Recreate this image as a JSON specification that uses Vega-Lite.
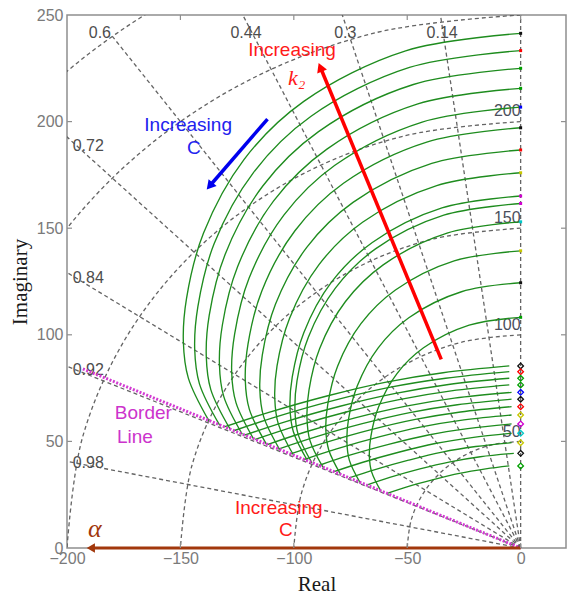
{
  "$schema": "https://vega.github.io/schema/vega-lite/v6.json",
  "width": 499,
  "height": 533,
  "autosize": {"type": "none"},
  "padding": {"left": 67, "top": 15, "right": 2, "bottom": 50},
  "background": "white",
  "config": {"view": {"stroke": "#8f8f8f", "strokeWidth": 1.5}},
  "datasets": {
    "wn": [
      {"r": 50, "i": 0, "x": 0, "y": 50}, {"r": 50, "i": 1, "x": -12.94, "y": 48.3}, {"r": 50, "i": 2, "x": -25, "y": 43.3}, {"r": 50, "i": 3, "x": -35.36, "y": 35.36}, {"r": 50, "i": 4, "x": -43.3, "y": 25}, {"r": 50, "i": 5, "x": -48.3, "y": 12.94}, {"r": 50, "i": 6, "x": -50, "y": 0},
      {"r": 100, "i": 0, "x": 0, "y": 100}, {"r": 100, "i": 1, "x": -25.88, "y": 96.59}, {"r": 100, "i": 2, "x": -50, "y": 86.6}, {"r": 100, "i": 3, "x": -70.71, "y": 70.71}, {"r": 100, "i": 4, "x": -86.6, "y": 50}, {"r": 100, "i": 5, "x": -96.59, "y": 25.88}, {"r": 100, "i": 6, "x": -100, "y": 0},
      {"r": 150, "i": 0, "x": 0, "y": 150}, {"r": 150, "i": 1, "x": -38.82, "y": 144.89}, {"r": 150, "i": 2, "x": -75, "y": 129.9}, {"r": 150, "i": 3, "x": -106.07, "y": 106.07}, {"r": 150, "i": 4, "x": -129.9, "y": 75}, {"r": 150, "i": 5, "x": -144.89, "y": 38.82}, {"r": 150, "i": 6, "x": -150, "y": 0},
      {"r": 200, "i": 0, "x": 0, "y": 200}, {"r": 200, "i": 1, "x": -51.76, "y": 193.19}, {"r": 200, "i": 2, "x": -100, "y": 173.21}, {"r": 200, "i": 3, "x": -141.42, "y": 141.42}, {"r": 200, "i": 4, "x": -173.21, "y": 100}, {"r": 200, "i": 5, "x": -193.19, "y": 51.76}, {"r": 200, "i": 6, "x": -200, "y": 0},
      {"r": 250, "i": 0, "x": 0, "y": 250}, {"r": 250, "i": 1, "x": -64.7, "y": 241.48}, {"r": 250, "i": 2, "x": -125, "y": 216.51}, {"r": 250, "i": 3, "x": -176.78, "y": 176.78}, {"r": 250, "i": 4, "x": -216.51, "y": 125}, {"r": 250, "i": 5, "x": -241.48, "y": 64.7}, {"r": 250, "i": 6, "x": -250, "y": 0},
      {"r": 300, "i": 0, "x": 0, "y": 300}, {"r": 300, "i": 1, "x": -77.65, "y": 289.78}, {"r": 300, "i": 2, "x": -150, "y": 259.81}, {"r": 300, "i": 3, "x": -212.13, "y": 212.13}, {"r": 300, "i": 4, "x": -259.81, "y": 150}, {"r": 300, "i": 5, "x": -289.78, "y": 77.65}, {"r": 300, "i": 6, "x": -300, "y": 0}
    ],
    "zeta": [
      {"z": 0, "i": 0, "x": 0, "y": 0}, {"z": 0, "i": 1, "x": 0, "y": 300},
      {"z": 0.14, "i": 0, "x": 0, "y": 0}, {"z": 0.14, "i": 1, "x": -42, "y": 297.0},
      {"z": 0.3, "i": 0, "x": 0, "y": 0}, {"z": 0.3, "i": 1, "x": -90, "y": 286.2},
      {"z": 0.44, "i": 0, "x": 0, "y": 0}, {"z": 0.44, "i": 1, "x": -132, "y": 269.4},
      {"z": 0.6, "i": 0, "x": 0, "y": 0}, {"z": 0.6, "i": 1, "x": -180, "y": 240},
      {"z": 0.72, "i": 0, "x": 0, "y": 0}, {"z": 0.72, "i": 1, "x": -216, "y": 208.2},
      {"z": 0.84, "i": 0, "x": 0, "y": 0}, {"z": 0.84, "i": 1, "x": -252, "y": 162.8},
      {"z": 0.92, "i": 0, "x": 0, "y": 0}, {"z": 0.92, "i": 1, "x": -276, "y": 117.6},
      {"z": 0.98, "i": 0, "x": 0, "y": 0}, {"z": 0.98, "i": 1, "x": -294, "y": 59.7}
    ],
    "zetaTop": [
      {"t": "0.6", "x": -185.5, "y": 241.6},
      {"t": "0.44", "x": -121.1, "y": 241.6},
      {"t": "0.3", "x": -77.3, "y": 241.6},
      {"t": "0.14", "x": -34.6, "y": 241.6}
    ],
    "zetaLeft": [
      {"t": "0.72", "x": -197.5, "y": 188.5},
      {"t": "0.84", "x": -197.5, "y": 126.5},
      {"t": "0.92", "x": -197.5, "y": 83.5},
      {"t": "0.98", "x": -197.5, "y": 39.7}
    ],
    "wnLab": [
      {"t": "200", "x": 0, "y": 205},
      {"t": "150", "x": 0, "y": 154.6},
      {"t": "100", "x": 0, "y": 104.6},
      {"t": "50", "x": 0, "y": 54.5}
    ],
    "arcs": [
      {"k": "a1", "i": 0, "x": 0, "y": 241.4}, {"k": "a1", "i": 1, "x": -50.7, "y": 233.2}, {"k": "a1", "i": 2, "x": -95.6, "y": 209.5}, {"k": "a1", "i": 3, "x": -121.9, "y": 182.3}, {"k": "a1", "i": 4, "x": -139.8, "y": 147.7}, {"k": "a1", "i": 5, "x": -147.3, "y": 117.1}, {"k": "a1", "i": 6, "x": -148.7, "y": 96.6}, {"k": "a1", "i": 7, "x": -146.5, "y": 79.7}, {"k": "a1", "i": 8, "x": -137.4, "y": 59.6},
      {"k": "a2", "i": 0, "x": 0, "y": 233.3}, {"k": "a2", "i": 1, "x": -49.0, "y": 225.4}, {"k": "a2", "i": 2, "x": -92.4, "y": 202.5}, {"k": "a2", "i": 3, "x": -117.8, "y": 176.1}, {"k": "a2", "i": 4, "x": -135.1, "y": 142.8}, {"k": "a2", "i": 5, "x": -142.3, "y": 113.2}, {"k": "a2", "i": 6, "x": -143.7, "y": 93.3}, {"k": "a2", "i": 7, "x": -141.6, "y": 77.0}, {"k": "a2", "i": 8, "x": -132.7, "y": 57.6},
      {"k": "a3", "i": 0, "x": 0, "y": 225.0}, {"k": "a3", "i": 1, "x": -47.3, "y": 217.4}, {"k": "a3", "i": 2, "x": -89.1, "y": 195.3}, {"k": "a3", "i": 3, "x": -113.6, "y": 169.9}, {"k": "a3", "i": 4, "x": -130.3, "y": 137.7}, {"k": "a3", "i": 5, "x": -137.3, "y": 109.1}, {"k": "a3", "i": 6, "x": -138.6, "y": 90.0}, {"k": "a3", "i": 7, "x": -136.6, "y": 74.3}, {"k": "a3", "i": 8, "x": -128.0, "y": 55.6},
      {"k": "a4", "i": 0, "x": 0, "y": 215.6}, {"k": "a4", "i": 1, "x": -45.3, "y": 208.3}, {"k": "a4", "i": 2, "x": -85.4, "y": 187.1}, {"k": "a4", "i": 3, "x": -108.9, "y": 162.8}, {"k": "a4", "i": 4, "x": -124.8, "y": 131.9}, {"k": "a4", "i": 5, "x": -131.5, "y": 104.6}, {"k": "a4", "i": 6, "x": -132.8, "y": 86.2}, {"k": "a4", "i": 7, "x": -130.9, "y": 71.1}, {"k": "a4", "i": 8, "x": -122.7, "y": 53.3},
      {"k": "a5", "i": 0, "x": 0, "y": 206.8}, {"k": "a5", "i": 1, "x": -43.4, "y": 199.8}, {"k": "a5", "i": 2, "x": -81.9, "y": 179.5}, {"k": "a5", "i": 3, "x": -104.4, "y": 156.1}, {"k": "a5", "i": 4, "x": -119.7, "y": 126.6}, {"k": "a5", "i": 5, "x": -126.1, "y": 100.3}, {"k": "a5", "i": 6, "x": -127.4, "y": 82.7}, {"k": "a5", "i": 7, "x": -125.5, "y": 68.2}, {"k": "a5", "i": 8, "x": -117.7, "y": 51.1},
      {"k": "a6", "i": 0, "x": 0, "y": 197.1}, {"k": "a6", "i": 1, "x": -41.4, "y": 190.4}, {"k": "a6", "i": 2, "x": -78.1, "y": 171.1}, {"k": "a6", "i": 3, "x": -99.5, "y": 148.8}, {"k": "a6", "i": 4, "x": -114.1, "y": 120.6}, {"k": "a6", "i": 5, "x": -120.2, "y": 95.6}, {"k": "a6", "i": 6, "x": -121.4, "y": 78.8}, {"k": "a6", "i": 7, "x": -119.6, "y": 65.0}, {"k": "a6", "i": 8, "x": -112.1, "y": 48.7},
      {"k": "a7", "i": 0, "x": 0, "y": 186.7}, {"k": "a7", "i": 1, "x": -39.2, "y": 180.4}, {"k": "a7", "i": 2, "x": -73.9, "y": 162.1}, {"k": "a7", "i": 3, "x": -94.3, "y": 141.0}, {"k": "a7", "i": 4, "x": -108.1, "y": 114.3}, {"k": "a7", "i": 5, "x": -113.9, "y": 90.5}, {"k": "a7", "i": 6, "x": -115.0, "y": 74.7}, {"k": "a7", "i": 7, "x": -113.3, "y": 61.6}, {"k": "a7", "i": 8, "x": -106.2, "y": 46.1},
      {"k": "a8", "i": 0, "x": 0, "y": 176.0}, {"k": "a8", "i": 1, "x": -37.0, "y": 170.0}, {"k": "a8", "i": 2, "x": -69.7, "y": 152.8}, {"k": "a8", "i": 3, "x": -88.9, "y": 132.9}, {"k": "a8", "i": 4, "x": -101.9, "y": 107.7}, {"k": "a8", "i": 5, "x": -107.4, "y": 85.4}, {"k": "a8", "i": 6, "x": -108.4, "y": 70.4}, {"k": "a8", "i": 7, "x": -106.8, "y": 58.1}, {"k": "a8", "i": 8, "x": -100.1, "y": 43.5},
      {"k": "a9", "i": 0, "x": 0, "y": 165.1}, {"k": "a9", "i": 1, "x": -34.7, "y": 159.5}, {"k": "a9", "i": 2, "x": -65.4, "y": 143.3}, {"k": "a9", "i": 3, "x": -83.4, "y": 124.7}, {"k": "a9", "i": 4, "x": -95.6, "y": 101.0}, {"k": "a9", "i": 5, "x": -100.7, "y": 80.1}, {"k": "a9", "i": 6, "x": -101.7, "y": 66.0}, {"k": "a9", "i": 7, "x": -100.2, "y": 54.5}, {"k": "a9", "i": 8, "x": -93.9, "y": 40.8},
      {"k": "a10", "i": 0, "x": 0, "y": 161.6}, {"k": "a10", "i": 1, "x": -33.9, "y": 156.1}, {"k": "a10", "i": 2, "x": -64.0, "y": 140.3}, {"k": "a10", "i": 3, "x": -81.6, "y": 122.0}, {"k": "a10", "i": 4, "x": -93.6, "y": 98.9}, {"k": "a10", "i": 5, "x": -98.6, "y": 78.4}, {"k": "a10", "i": 6, "x": -99.5, "y": 64.6}, {"k": "a10", "i": 7, "x": -98.1, "y": 53.3}, {"k": "a10", "i": 8, "x": -92.0, "y": 39.9},
      {"k": "a11", "i": 0, "x": 0, "y": 153.0}, {"k": "a11", "i": 1, "x": -32.1, "y": 147.8}, {"k": "a11", "i": 2, "x": -60.6, "y": 132.8}, {"k": "a11", "i": 3, "x": -77.3, "y": 115.5}, {"k": "a11", "i": 4, "x": -88.6, "y": 93.6}, {"k": "a11", "i": 5, "x": -93.3, "y": 74.2}, {"k": "a11", "i": 6, "x": -94.2, "y": 61.2}, {"k": "a11", "i": 7, "x": -92.9, "y": 50.5}, {"k": "a11", "i": 8, "x": -87.1, "y": 37.8},
      {"k": "a12", "i": 0, "x": 0, "y": 139.4}, {"k": "a12", "i": 1, "x": -29.3, "y": 134.7}, {"k": "a12", "i": 2, "x": -55.2, "y": 121.0}, {"k": "a12", "i": 3, "x": -70.4, "y": 105.2}, {"k": "a12", "i": 4, "x": -80.7, "y": 85.3}, {"k": "a12", "i": 5, "x": -85.0, "y": 67.6}, {"k": "a12", "i": 6, "x": -85.9, "y": 55.8}, {"k": "a12", "i": 7, "x": -84.6, "y": 46.0}, {"k": "a12", "i": 8, "x": -79.3, "y": 34.4},
      {"k": "a13", "i": 0, "x": 0, "y": 124.4}, {"k": "a13", "i": 1, "x": -26.1, "y": 120.2}, {"k": "a13", "i": 2, "x": -49.3, "y": 108.0}, {"k": "a13", "i": 3, "x": -62.8, "y": 93.9}, {"k": "a13", "i": 4, "x": -72.0, "y": 76.1}, {"k": "a13", "i": 5, "x": -75.9, "y": 60.3}, {"k": "a13", "i": 6, "x": -76.6, "y": 49.8}, {"k": "a13", "i": 7, "x": -75.5, "y": 41.1}, {"k": "a13", "i": 8, "x": -70.8, "y": 30.7},
      {"k": "a14", "i": 0, "x": 0, "y": 108.2}, {"k": "a14", "i": 1, "x": -22.7, "y": 104.5}, {"k": "a14", "i": 2, "x": -42.8, "y": 93.9}, {"k": "a14", "i": 3, "x": -54.6, "y": 81.7}, {"k": "a14", "i": 4, "x": -62.6, "y": 66.2}, {"k": "a14", "i": 5, "x": -66.0, "y": 52.5}, {"k": "a14", "i": 6, "x": -66.7, "y": 43.3}, {"k": "a14", "i": 7, "x": -65.7, "y": 35.7}, {"k": "a14", "i": 8, "x": -61.6, "y": 26.7}
    ],
    "branches": [
      {"k": "b1", "i": 0, "x": -130.7, "y": 56.8}, {"k": "b1", "i": 1, "x": -111.0, "y": 63.6}, {"k": "b1", "i": 2, "x": -85.4, "y": 71.3}, {"k": "b1", "i": 3, "x": -59.8, "y": 77.7}, {"k": "b1", "i": 4, "x": -34.2, "y": 82.2}, {"k": "b1", "i": 5, "x": -5, "y": 85.4},
      {"k": "b2", "i": 0, "x": -126.5, "y": 55.0}, {"k": "b2", "i": 1, "x": -107.5, "y": 61.6}, {"k": "b2", "i": 2, "x": -82.7, "y": 69.1}, {"k": "b2", "i": 3, "x": -57.9, "y": 75.3}, {"k": "b2", "i": 4, "x": -33.1, "y": 79.6}, {"k": "b2", "i": 5, "x": -5, "y": 82.7},
      {"k": "b3", "i": 0, "x": -121.8, "y": 52.9}, {"k": "b3", "i": 1, "x": -103.5, "y": 59.3}, {"k": "b3", "i": 2, "x": -79.6, "y": 66.5}, {"k": "b3", "i": 3, "x": -55.7, "y": 72.4}, {"k": "b3", "i": 4, "x": -31.8, "y": 76.7}, {"k": "b3", "i": 5, "x": -5, "y": 79.6},
      {"k": "b4", "i": 0, "x": -117.0, "y": 50.9}, {"k": "b4", "i": 1, "x": -99.5, "y": 57.0}, {"k": "b4", "i": 2, "x": -76.5, "y": 63.9}, {"k": "b4", "i": 3, "x": -53.6, "y": 69.6}, {"k": "b4", "i": 4, "x": -30.6, "y": 73.7}, {"k": "b4", "i": 5, "x": -5, "y": 76.5},
      {"k": "b5", "i": 0, "x": -111.7, "y": 48.5}, {"k": "b5", "i": 1, "x": -94.9, "y": 54.4}, {"k": "b5", "i": 2, "x": -73.0, "y": 61.0}, {"k": "b5", "i": 3, "x": -51.1, "y": 66.4}, {"k": "b5", "i": 4, "x": -29.2, "y": 70.3}, {"k": "b5", "i": 5, "x": -4, "y": 73.0},
      {"k": "b6", "i": 0, "x": -106.8, "y": 46.4}, {"k": "b6", "i": 1, "x": -90.7, "y": 52.0}, {"k": "b6", "i": 2, "x": -69.8, "y": 58.3}, {"k": "b6", "i": 3, "x": -48.9, "y": 63.5}, {"k": "b6", "i": 4, "x": -27.9, "y": 67.2}, {"k": "b6", "i": 5, "x": -4, "y": 69.8},
      {"k": "b7", "i": 0, "x": -101.4, "y": 44.1}, {"k": "b7", "i": 1, "x": -86.2, "y": 49.4}, {"k": "b7", "i": 2, "x": -66.3, "y": 55.4}, {"k": "b7", "i": 3, "x": -46.4, "y": 60.3}, {"k": "b7", "i": 4, "x": -26.5, "y": 63.8}, {"k": "b7", "i": 5, "x": -4, "y": 66.3},
      {"k": "b8", "i": 0, "x": -95.5, "y": 41.5}, {"k": "b8", "i": 1, "x": -81.1, "y": 46.5}, {"k": "b8", "i": 2, "x": -62.4, "y": 52.1}, {"k": "b8", "i": 3, "x": -43.7, "y": 56.8}, {"k": "b8", "i": 4, "x": -25.0, "y": 60.1}, {"k": "b8", "i": 5, "x": -4, "y": 62.4},
      {"k": "b9", "i": 0, "x": -89.0, "y": 38.7}, {"k": "b9", "i": 1, "x": -75.7, "y": 43.4}, {"k": "b9", "i": 2, "x": -58.2, "y": 48.6}, {"k": "b9", "i": 3, "x": -40.7, "y": 53.0}, {"k": "b9", "i": 4, "x": -23.3, "y": 56.0}, {"k": "b9", "i": 5, "x": -4, "y": 58.2},
      {"k": "b10", "i": 0, "x": -82.3, "y": 35.8}, {"k": "b10", "i": 1, "x": -69.9, "y": 40.1}, {"k": "b10", "i": 2, "x": -53.8, "y": 44.9}, {"k": "b10", "i": 3, "x": -37.7, "y": 49.0}, {"k": "b10", "i": 4, "x": -21.5, "y": 51.8}, {"k": "b10", "i": 5, "x": -4, "y": 53.8},
      {"k": "b11", "i": 0, "x": -75.6, "y": 32.9}, {"k": "b11", "i": 1, "x": -64.2, "y": 36.8}, {"k": "b11", "i": 2, "x": -49.4, "y": 41.2}, {"k": "b11", "i": 3, "x": -34.6, "y": 45.0}, {"k": "b11", "i": 4, "x": -19.8, "y": 47.6}, {"k": "b11", "i": 5, "x": -4, "y": 49.4},
      {"k": "b12", "i": 0, "x": -67.9, "y": 29.5}, {"k": "b12", "i": 1, "x": -57.7, "y": 33.1}, {"k": "b12", "i": 2, "x": -44.4, "y": 37.1}, {"k": "b12", "i": 3, "x": -31.1, "y": 40.4}, {"k": "b12", "i": 4, "x": -17.8, "y": 42.8}, {"k": "b12", "i": 5, "x": -3, "y": 44.4},
      {"k": "b13", "i": 0, "x": -58.9, "y": 25.6}, {"k": "b13", "i": 1, "x": -50.1, "y": 28.7}, {"k": "b13", "i": 2, "x": -38.5, "y": 32.1}, {"k": "b13", "i": 3, "x": -27.0, "y": 35.0}, {"k": "b13", "i": 4, "x": -15.4, "y": 37.1}, {"k": "b13", "i": 5, "x": -5, "y": 38.5}
    ],
    "arcPoles": [
      {"m": "a1", "x": 0, "y": 241.4}, {"m": "a2", "x": 0, "y": 233.3}, {"m": "a3", "x": 0, "y": 225.0}, {"m": "a4", "x": 0, "y": 215.6}, {"m": "a5", "x": 0, "y": 206.8}, {"m": "a6", "x": 0, "y": 197.1}, {"m": "a7", "x": 0, "y": 186.7},
      {"m": "a8", "x": 0, "y": 176.0}, {"m": "a9", "x": 0, "y": 165.1}, {"m": "a10", "x": 0, "y": 161.6}, {"m": "a11", "x": 0, "y": 153.0}, {"m": "a12", "x": 0, "y": 139.4}, {"m": "a13", "x": 0, "y": 124.4}, {"m": "a14", "x": 0, "y": 108.2}
    ],
    "branchPoles": [
      {"m": "b1", "x": 0, "y": 85.4}, {"m": "b2", "x": 0, "y": 82.7}, {"m": "b3", "x": 0, "y": 79.6}, {"m": "b4", "x": 0, "y": 76.5}, {"m": "b5", "x": 0, "y": 73.0}, {"m": "b6", "x": 0, "y": 69.8}, {"m": "b7", "x": 0, "y": 66.3},
      {"m": "b8", "x": 0, "y": 62.4}, {"m": "b9", "x": 0, "y": 58.2}, {"m": "b10", "x": 0, "y": 53.8}, {"m": "b11", "x": 0, "y": 49.4}, {"m": "b12", "x": 0, "y": 44.4}, {"m": "b13", "x": 0, "y": 38.5}
    ],
    "ticksX": [
      {"x": -150, "y": 0}, {"x": -100, "y": 0}, {"x": -50, "y": 0}, {"x": 0, "y": 0},
      {"x": -150, "y": 250}, {"x": -100, "y": 250}, {"x": -50, "y": 250}, {"x": 0, "y": 250}
    ],
    "ticksY": [
      {"x": -200, "y": 50}, {"x": -200, "y": 100}, {"x": -200, "y": 150}, {"x": -200, "y": 200},
      {"x": 20, "y": 50}, {"x": 20, "y": 100}, {"x": 20, "y": 150}, {"x": 20, "y": 200}
    ]
  },
  "encoding": {
    "x": {
      "field": "x", "type": "quantitative",
      "scale": {"domain": [-200, 20], "nice": false, "zero": false},
      "axis": {
        "values": [-200, -150, -100, -50, 0], "grid": false, "ticks": false, "domain": false,
        "labelFlush": false, "labelOverlap": false,
        "labelFont": "Liberation Sans", "labelFontSize": 16, "labelColor": "#7a7a7a", "labelPadding": 2,
        "title": "Real", "titleFont": "Liberation Serif", "titleFontSize": 21, "titleFontWeight": "normal",
        "titleColor": "#1a1a1a", "titlePadding": 7
      }
    },
    "y": {
      "field": "y", "type": "quantitative",
      "scale": {"domain": [0, 250], "nice": false, "zero": false},
      "axis": {
        "values": [0, 50, 100, 150, 200, 250], "grid": false, "ticks": false, "domain": false,
        "labelFlush": false, "labelOverlap": false,
        "labelFont": "Liberation Sans", "labelFontSize": 16, "labelColor": "#7a7a7a", "labelPadding": 4,
        "title": "Imaginary", "titleFont": "Liberation Serif", "titleFontSize": 21, "titleFontWeight": "normal",
        "titleColor": "#1a1a1a", "titlePadding": 6
      }
    }
  },
  "layer": [
    {
      "data": {"name": "wn"},
      "mark": {"type": "line", "interpolate": "catmull-rom", "stroke": "#646464", "strokeWidth": 1.3, "strokeDash": [4, 3], "clip": true},
      "encoding": {"detail": {"field": "r"}, "order": {"field": "i"}}
    },
    {
      "data": {"name": "zeta"},
      "mark": {"type": "line", "stroke": "#646464", "strokeWidth": 1.3, "strokeDash": [4, 3], "clip": true},
      "encoding": {"detail": {"field": "z"}, "order": {"field": "i"}}
    },
    {
      "data": {"name": "zetaTop"},
      "mark": {"type": "text", "align": "center", "baseline": "middle", "font": "Liberation Sans", "fontSize": 16, "fill": "#4d4d4d"},
      "encoding": {"text": {"field": "t"}}
    },
    {
      "data": {"name": "zetaLeft"},
      "mark": {"type": "text", "align": "left", "baseline": "middle", "font": "Liberation Sans", "fontSize": 16, "fill": "#4d4d4d"},
      "encoding": {"text": {"field": "t"}}
    },
    {
      "data": {"name": "wnLab"},
      "mark": {"type": "text", "align": "right", "baseline": "middle", "font": "Liberation Sans", "fontSize": 16, "fill": "#4a4e5c"},
      "encoding": {"text": {"field": "t"}}
    },
    {
      "data": {"name": "arcs"},
      "mark": {"type": "line", "interpolate": "catmull-rom", "stroke": "#1e8c1e", "strokeWidth": 1.35},
      "encoding": {"detail": {"field": "k"}, "order": {"field": "i"}}
    },
    {
      "data": {"name": "branches"},
      "mark": {"type": "line", "interpolate": "catmull-rom", "stroke": "#1e8c1e", "strokeWidth": 1.35},
      "encoding": {"detail": {"field": "k"}, "order": {"field": "i"}}
    },
    {
      "data": {"name": "arcPoles"},
      "mark": {"type": "point", "shape": "square", "filled": true, "size": 9, "opacity": 1},
      "encoding": {"color": {"field": "m", "type": "nominal", "legend": null,
        "scale": {
          "domain": ["a1","a2","a3","a4","a5","a6","a7","a8","a9","a10","a11","a12","a13","a14","b1","b2","b3","b4","b5","b6","b7","b8","b9","b10","b11","b12","b13"],
          "range": ["#111111","#ff0000","#00a000","#00a000","#0000ff","#111111","#ff0000","#c8c800","#d000d0","#d000d0","#00c8c8","#c8c800","#111111","#00a000",
                    "#111111","#ff0000","#00a000","#00a000","#0000ff","#111111","#ff0000","#c8c800","#d000d0","#00c8c8","#c8c800","#111111","#00a000"]
        }}}
    },
    {
      "data": {"name": "branchPoles"},
      "mark": {"type": "point", "shape": "diamond", "filled": false, "size": 32, "strokeWidth": 1.3, "opacity": 1},
      "encoding": {"color": {"field": "m", "type": "nominal", "legend": null}}
    },
    {
      "data": {"values": [{"i": 0, "x": -193, "y": 84.0}, {"i": 1, "x": 0, "y": 0}]},
      "mark": {"type": "line", "stroke": "#d23cd2", "strokeWidth": 3, "strokeDash": [2, 1.6]},
      "encoding": {"order": {"field": "i"}}
    },
    {
      "data": {"values": [{"i": 0, "x": 0, "y": 0}, {"i": 1, "x": -189.5, "y": 0}]},
      "mark": {"type": "line", "stroke": "#a2380c", "strokeWidth": 3, "clip": false},
      "encoding": {"order": {"field": "i"}}
    },
    {
      "data": {"values": [{"x": -189.5, "y": 0}]},
      "mark": {"type": "point", "shape": "triangle-up", "filled": true, "size": 90, "angle": 270, "color": "#a2380c", "opacity": 1, "clip": false}
    },
    {
      "data": {"values": [{"i": 0, "x": -35.0, "y": 88.5}, {"i": 1, "x": -88.3, "y": 225.5}]},
      "mark": {"type": "line", "stroke": "#ff0000", "strokeWidth": 3.5},
      "encoding": {"order": {"field": "i"}}
    },
    {
      "data": {"values": [{"x": -88.3, "y": 225.5}]},
      "mark": {"type": "point", "shape": "triangle-up", "filled": true, "size": 110, "angle": 337.5, "color": "#ff0000", "opacity": 1}
    },
    {
      "data": {"values": [{"i": 0, "x": -111.6, "y": 201.2}, {"i": 1, "x": -137.1, "y": 169.8}]},
      "mark": {"type": "line", "stroke": "#0000ee", "strokeWidth": 3.5},
      "encoding": {"order": {"field": "i"}}
    },
    {
      "data": {"values": [{"x": -137.1, "y": 169.8}]},
      "mark": {"type": "point", "shape": "triangle-up", "filled": true, "size": 110, "angle": 220.3, "color": "#0000ee", "opacity": 1}
    },
    {
      "data": {"values": [{"t": "Increasing", "x": -100.8, "y": 233.6}, {"t": "Increasing", "x": -106.6, "y": 18.8}, {"t": "C", "x": -103.5, "y": 8.4}]},
      "mark": {"type": "text", "align": "center", "baseline": "middle", "font": "Liberation Sans", "fontSize": 19, "fill": "#ff1a1a"},
      "encoding": {"text": {"field": "t"}}
    },
    {
      "data": {"values": [{"t": "k₂", "x": -98.7, "y": 220.5}]},
      "mark": {"type": "text", "align": "center", "baseline": "middle", "font": "Liberation Serif", "fontSize": 22, "fontStyle": "italic", "fill": "#ff1a1a"},
      "encoding": {"text": {"field": "t"}}
    },
    {
      "data": {"values": [{"t": "Increasing", "x": -146.6, "y": 198.4}, {"t": "C", "x": -144.1, "y": 187.6}]},
      "mark": {"type": "text", "align": "center", "baseline": "middle", "font": "Liberation Sans", "fontSize": 19, "fill": "#2222ee"},
      "encoding": {"text": {"field": "t"}}
    },
    {
      "data": {"values": [{"t": "Border", "x": -178.9, "y": 63.3}, {"t": "Line", "x": -178.0, "y": 52.1}]},
      "mark": {"type": "text", "align": "left", "baseline": "middle", "font": "Liberation Sans", "fontSize": 19, "fill": "#cc33cc"},
      "encoding": {"text": {"field": "t"}}
    },
    {
      "data": {"values": [{"t": "α", "x": -187.7, "y": 9.0}]},
      "mark": {"type": "text", "align": "center", "baseline": "middle", "font": "Liberation Serif", "fontSize": 26, "fontStyle": "italic", "fill": "#a2380c"},
      "encoding": {"text": {"field": "t"}}
    },
    {
      "data": {"name": "ticksX"},
      "mark": {"type": "tick", "orient": "vertical", "size": 10, "thickness": 1.2, "color": "#8f8f8f", "opacity": 1, "clip": true}
    },
    {
      "data": {"name": "ticksY"},
      "mark": {"type": "tick", "orient": "horizontal", "size": 10, "thickness": 1.2, "color": "#8f8f8f", "opacity": 1, "clip": true}
    }
  ]
}
